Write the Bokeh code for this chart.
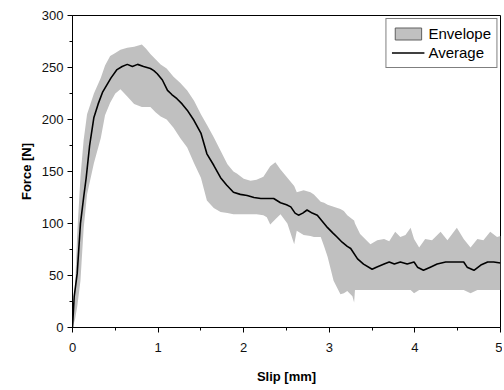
from bokeh.plotting import figure
from bokeh.models import Range1d, Legend, LegendItem, FixedTicker
from bokeh.embed import file_html
from bokeh.resources import INLINE

# Average curve
avg_x = [0, 0.02, 0.055, 0.093, 0.13, 0.16, 0.2, 0.25, 0.3, 0.35, 0.4, 0.45, 0.52, 0.58, 0.64, 0.7,
         0.76, 0.83, 0.91, 0.95, 0.99, 1.05, 1.11, 1.16, 1.22, 1.28, 1.34, 1.42, 1.5, 1.57, 1.65, 1.73,
         1.8, 1.88, 1.96, 2.04, 2.12, 2.2, 2.28, 2.35, 2.43, 2.5, 2.55, 2.6, 2.64, 2.69, 2.74, 2.8,
         2.86, 2.92, 2.98, 3.04, 3.09, 3.15, 3.21, 3.25, 3.33, 3.40, 3.50, 3.55, 3.64, 3.70, 3.76,
         3.83, 3.91, 3.99, 4.03, 4.10, 4.18, 4.26, 4.36, 4.46, 4.57, 4.61, 4.69, 4.77, 4.85, 4.92, 5.0]
avg_y = [0, 30, 52, 100, 125, 144, 175, 202, 215, 226, 233, 240, 248, 251, 253, 251,
         253, 251, 249, 247, 244, 238, 228, 224, 220, 215, 209, 199, 187, 167, 156, 144,
         137, 130, 128, 127, 125, 124, 124, 124, 120, 118, 116, 110, 108, 110, 113, 110,
         108, 102, 96, 91, 87, 82, 78, 76, 66, 61, 56, 58, 61, 63, 61,
         63, 61, 63, 58, 55, 58, 61, 63, 63, 63, 58, 55, 60, 63, 63, 62]

# Envelope (min / max)
env_x = [0, 0.03, 0.055, 0.093, 0.13, 0.17, 0.25, 0.33, 0.38, 0.44, 0.5, 0.56, 0.64, 0.72, 0.81, 0.86,
         0.91, 0.97, 1.03, 1.1, 1.18, 1.26, 1.34, 1.42, 1.5, 1.57, 1.65, 1.73, 1.81, 1.88, 1.92, 2.0,
         2.08, 2.15, 2.23, 2.27, 2.31, 2.37, 2.43, 2.51, 2.59, 2.62, 2.70, 2.78, 2.82, 2.90, 2.94, 2.98,
         3.05, 3.13, 3.17, 3.21, 3.27, 3.29, 3.30, 3.36, 3.48, 3.56, 3.64, 3.70, 3.77, 3.83, 3.89, 3.95,
         3.99, 4.05, 4.12, 4.2, 4.30, 4.38, 4.49, 4.57, 4.65, 4.73, 4.8, 4.88, 4.96, 5.0]
env_upper = [0, 40, 90, 145, 180, 205, 225, 240, 252, 261, 264, 267, 269, 270, 272, 268,
             263, 258, 253, 249, 241, 235, 228, 218, 205, 195, 183, 170, 157, 150, 148, 143,
             141, 142, 145, 150, 155, 159, 152, 144, 136, 130, 132, 130, 128, 121, 120, 118,
             116, 114, 112, 108, 104, 103, 100, 90, 80, 84, 85, 83, 92, 87, 89, 96,
             85, 77, 85, 84, 92, 84, 96, 85, 77, 85, 84, 92, 87, 88]
env_lower = [0, 8, 20, 45, 95, 128, 158, 182, 204, 216, 225, 229, 222, 215, 212, 212,
             212, 207, 203, 200, 192, 182, 173, 158, 144, 122, 115, 111, 110, 109, 109, 109,
             109, 109, 108, 106, 99, 104, 109, 100, 80, 93, 89, 88, 87, 87, 78, 68,
             45, 32, 33, 35, 30, 24, 36, 36, 36, 36, 36, 36, 36, 36, 36, 36,
             33, 36, 36, 36, 36, 36, 36, 36, 33, 36, 36, 36, 36, 36]

x_ticks = [0, 1, 2, 3, 4, 5]
x_minor = [0.5, 1.5, 2.5, 3.5, 4.5]
y_ticks = [0, 50, 100, 150, 200, 250, 300]
y_minor = [25, 75, 125, 175, 225, 275]

FONT = "Liberation Sans"
ENV_COLOR = "#c0c0c0"

p = figure(output_backend="svg", toolbar_location=None,
           frame_width=428, frame_height=312,
           min_border_left=72, min_border_right=2, min_border_top=15, min_border_bottom=55,
           x_range=Range1d(0, 5), y_range=Range1d(0, 300))
p.xgrid.visible = False
p.ygrid.visible = False
p.outline_line_color = "black"
p.outline_line_width = 1
p.background_fill_color = "white"
p.border_fill_color = "white"

env = p.varea(x=env_x, y1=env_lower, y2=env_upper, fill_color=ENV_COLOR, fill_alpha=1.0)
avg = p.line(avg_x, avg_y, line_color="black", line_width=1.6)

# legend-only swatch (placed outside the visible x range)
swatch = p.quad(left=[10], right=[11], top=[1], bottom=[0],
                fill_color=ENV_COLOR, line_color="#606060", line_width=1)

legend = Legend(items=[LegendItem(label="Envelope", renderers=[swatch]),
                       LegendItem(label="Average", renderers=[avg])],
                location="top_right")
legend.label_text_font = FONT
legend.label_text_font_size = "15px"
legend.label_text_color = "black"
legend.border_line_color = "black"
legend.border_line_width = 1
legend.background_fill_alpha = 1.0
legend.margin = 3
legend.padding = 5
legend.spacing = 0
legend.glyph_width = 33
legend.glyph_height = 15
legend.label_standoff = 4
legend.label_height = 19
p.add_layout(legend)

for ax in (p.xaxis[0], p.yaxis[0]):
    ax.axis_line_color = "black"
    ax.major_tick_line_color = "black"
    ax.minor_tick_line_color = "black"
    ax.major_tick_out = 5
    ax.major_tick_in = 0
    ax.minor_tick_out = 3
    ax.minor_tick_in = 0
    ax.major_label_text_font = FONT
    ax.major_label_text_font_size = "13px"
    ax.major_label_text_color = "#111111"
    ax.axis_label_text_font = FONT
    ax.axis_label_text_font_size = "13px"
    ax.axis_label_text_font_style = "bold"
    ax.axis_label_text_color = "black"

p.xaxis.ticker = FixedTicker(ticks=x_ticks, minor_ticks=x_minor)
p.yaxis.ticker = FixedTicker(ticks=y_ticks, minor_ticks=y_minor)
p.xaxis.axis_label = "Slip [mm]"
p.yaxis.axis_label = "Force [N]"
p.xaxis.major_label_standoff = 10
p.yaxis.major_label_standoff = 4
p.xaxis.axis_label_standoff = 14
p.yaxis.axis_label_standoff = 5

open("out.html", "w").write(file_html(p, INLINE))
